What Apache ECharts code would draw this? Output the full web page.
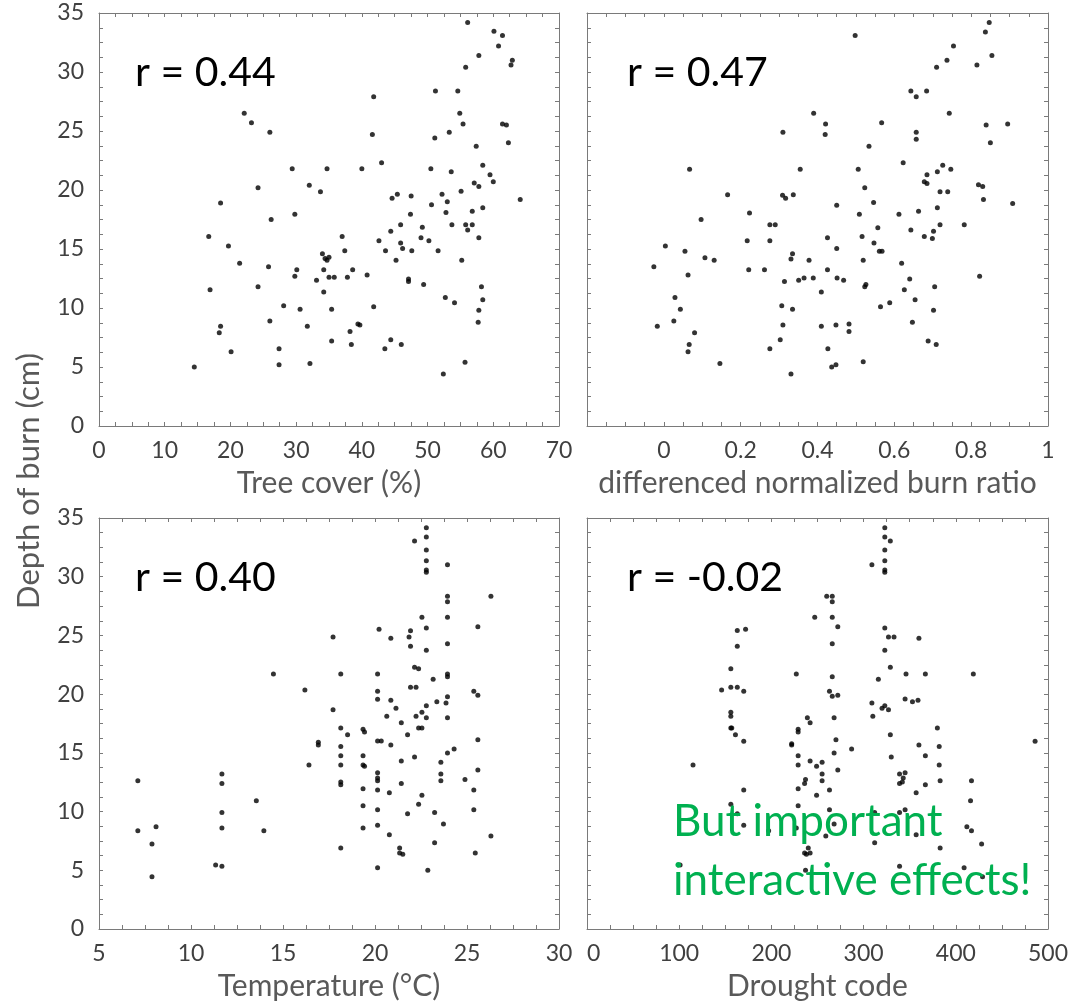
<!DOCTYPE html>
<html>
<head>
<meta charset="utf-8">
<script src="https://cdn.jsdelivr.net/npm/echarts@6/dist/echarts.min.js"></script>
<style>
  html, body { margin: 0; padding: 0; background: #fff; }
  #chart { width: 1071px; height: 1005px; }
</style>
</head>
<body>
<div id="chart"></div>
<script>
// Depth of burn against four site variables, one scatter panel each.

// Panel 1: tree cover (%)
const coverPct = [56.1,60.1,61.4,60.8,57.8,62.9,62.7,55.8,41.8,51.2,54.6,22.1,23.2,54.9,55.4,61.4,62.0,26.0,41.6,51.1,53.3,62.3,57.4,43.0,29.4,34.7,40.0,50.5,53.6,58.4,59.5,57.1,60.0,57.8,24.2,32.0,33.7,55.1,45.4,47.5,52.2,44.6,64.1,53.0,50.6,18.5,58.4,56.8,52.8,29.8,47.4,26.2,45.9,53.7,55.8,56.8,56.1,49.2,44.4,16.7,37.0,49.0,57.8,42.6,50.2,45.9,19.7,46.2,37.4,43.6,47.6,51.6,34.0,34.4,35.0,34.7,45.2,55.2,21.4,25.8,30.1,34.2,38.6,29.8,40.8,35.0,35.8,37.8,33.1,47.1,47.1,49.4,24.2,58.2,16.9,34.2,52.7,58.4,54.1,28.1,41.8,30.6,35.4,57.8,26.0,57.7,39.4,39.7,18.5,31.7,18.3,38.2,35.4,44.4,38.4,46.0,27.4,43.5,20.1,27.4,32.1,55.7,14.5,52.4];
const coverDepth = [34.2,33.45,33.1,32.2,31.4,31.0,30.6,30.4,27.9,28.4,28.4,26.5,25.7,26.5,25.6,25.6,25.5,24.9,24.7,24.4,24.9,24.0,23.7,22.3,21.8,21.8,21.8,21.8,21.55,22.1,21.3,20.6,20.7,20.3,20.2,20.4,19.85,19.9,19.65,19.5,19.65,19.3,19.2,19.0,18.75,18.9,18.5,18.2,18.1,17.95,17.95,17.5,17.05,17.05,17.05,17.05,16.6,16.85,16.5,16.05,16.05,15.95,15.95,15.7,15.7,15.5,15.25,15.05,14.85,14.85,14.85,14.85,14.6,14.2,14.3,14.05,14.05,14.05,13.8,13.5,13.25,13.25,13.25,12.7,12.8,12.6,12.6,12.6,12.35,12.45,12.25,12.0,11.8,11.8,11.55,11.35,10.9,10.7,10.45,10.2,10.1,9.9,9.9,9.8,8.9,8.8,8.65,8.55,8.45,8.45,7.9,8.0,7.2,7.3,6.9,6.9,6.55,6.55,6.3,5.2,5.3,5.4,5.0,4.4];

// Panel 2: differenced normalized burn ratio
const dnbr = [0.847,0.498,0.837,0.754,0.854,0.737,0.815,0.710,0.643,0.684,0.657,0.390,0.743,0.421,0.567,0.839,0.895,0.310,0.657,0.420,0.657,0.850,0.534,0.623,0.726,0.067,0.355,0.506,0.747,0.712,0.685,0.678,0.685,0.819,0.830,0.523,0.719,0.739,0.166,0.309,0.317,0.337,0.832,0.546,0.908,0.450,0.712,0.663,0.223,0.509,0.612,0.097,0.276,0.290,0.719,0.782,0.557,0.643,0.702,0.678,0.699,0.516,0.426,0.217,0.276,0.547,0.004,0.450,0.561,0.568,0.055,0.335,0.107,0.331,0.131,0.378,0.519,0.619,-0.026,0.221,0.262,0.426,0.063,0.365,0.389,0.451,0.351,0.468,0.314,0.640,0.822,0.526,0.523,0.705,0.626,0.410,0.029,0.654,0.588,0.307,0.564,0.043,0.335,0.702,0.026,0.647,0.482,0.310,0.448,-0.017,0.410,0.482,0.080,0.303,0.688,0.066,0.709,0.276,0.427,0.063,0.146,0.519,0.448,0.437,0.331];
const dnbrDepth = [34.2,33.1,33.4,32.2,31.4,31.0,30.6,30.4,28.4,28.4,27.9,26.5,26.5,25.6,25.7,25.5,25.6,24.9,24.9,24.7,24.3,24.0,23.7,22.3,22.1,21.75,21.75,21.75,21.75,21.55,21.3,20.7,20.55,20.45,20.3,20.2,19.85,19.85,19.6,19.55,19.3,19.6,19.2,18.95,18.85,18.7,18.5,18.2,18.05,17.95,17.95,17.5,17.05,17.05,17.05,17.05,16.8,16.6,16.5,16.05,15.9,16.05,15.95,15.7,15.7,15.5,15.25,15.05,14.8,14.8,14.8,14.6,14.25,14.15,14.05,14.05,14.05,13.8,13.5,13.25,13.25,13.25,12.8,12.55,12.55,12.55,12.35,12.35,12.25,12.45,12.7,12.0,11.8,11.8,11.55,11.35,10.9,10.7,10.45,10.2,10.1,9.9,9.9,9.8,8.9,8.8,8.65,8.55,8.55,8.45,8.45,8.0,7.9,7.3,7.2,6.9,6.9,6.55,6.55,6.3,5.3,5.45,5.2,5.0,4.4];

// Panel 3: temperature (°C)
const tempC = [22.79,22.79,22.15,22.79,22.79,23.94,22.79,22.79,23.94,23.94,26.30,22.55,23.94,22.79,25.59,20.22,21.93,17.72,20.86,21.85,21.93,23.94,22.79,22.15,22.37,14.48,18.14,20.14,23.94,23.94,23.16,16.19,20.14,21.93,22.23,25.37,25.59,20.14,23.94,20.86,23.36,23.86,22.79,17.72,21.14,22.55,20.64,22.23,22.79,23.94,21.43,18.14,22.37,22.55,19.35,19.43,18.51,21.77,16.92,16.92,20.14,20.34,25.59,20.86,18.14,24.30,23.94,18.14,19.35,22.15,16.41,18.14,19.35,19.43,21.43,23.58,11.68,20.14,23.58,25.59,20.14,20.14,24.89,7.11,23.58,11.68,18.14,18.14,21.43,19.35,20.14,25.37,20.78,22.55,13.55,19.35,22.37,20.14,25.37,11.68,21.77,23.24,23.72,20.14,8.10,11.68,19.35,7.11,13.96,20.78,26.30,7.88,23.24,18.14,21.34,21.34,21.51,25.45,11.34,11.68,20.14,22.87,7.88];
const tempDepth = [34.18,33.38,33.04,32.27,31.37,31.02,30.57,30.37,28.33,27.87,28.33,26.54,26.54,25.63,25.74,25.52,25.40,24.86,24.75,24.86,24.07,24.30,23.73,22.28,22.17,21.71,21.71,21.71,21.71,21.49,21.26,20.35,20.24,20.58,20.58,20.24,19.90,19.56,19.78,19.47,19.36,19.25,19.02,18.68,18.79,18.45,18.11,18.11,18.00,18.00,17.57,17.12,17.12,17.12,17.00,16.78,16.55,16.55,15.90,15.67,16.01,16.01,16.12,15.67,15.55,15.33,14.99,14.76,14.76,14.65,13.97,13.97,13.97,13.85,14.31,14.19,13.20,13.31,13.20,13.54,12.86,12.63,12.74,12.63,12.63,12.40,12.52,12.29,12.40,11.95,11.84,11.84,11.61,11.38,10.93,10.50,10.62,10.16,10.16,9.93,9.82,9.93,8.94,8.83,8.71,8.60,8.60,8.37,8.37,8.03,7.92,7.24,7.35,6.90,6.90,6.47,6.36,6.47,5.45,5.34,5.22,5.00,4.46];

// Panel 4: drought code
const droughtCode = [323,323,329,323,323,309,323,323,260,266,266,247,266,323,272,163,172,327,333,360,163,266,323,329,156,227,346,367,419,316,266,146,156,163,170,263,266,272,345,353,359,309,320,323,327,156,156,310,239,268,242,156,157,229,229,380,161,329,170,222,222,270,360,382,486,287,268,229,330,367,115,229,242,249,255,382,272,255,339,345,237,236,255,339,342,343,383,417,367,170,229,263,357,249,416,156,229,263,339,345,312,163,268,170,412,417,197,227,259,357,312,383,240,236,238,242,428,101,339,409,237,429];
const droughtDepth = [34.18,33.38,33.04,32.27,31.37,31.02,30.57,30.37,28.33,28.33,27.87,26.54,26.54,25.63,25.74,25.43,25.52,24.86,24.86,24.75,24.07,24.30,23.73,22.28,22.17,21.71,21.71,21.71,21.71,21.26,21.49,20.35,20.58,20.58,20.24,20.24,19.81,19.90,19.59,19.36,19.47,19.25,18.79,19.02,18.68,18.45,18.11,18.11,18.00,18.00,17.57,17.12,17.12,17.00,16.78,17.12,16.55,16.55,15.98,15.78,15.67,16.12,15.67,15.55,15.98,15.33,14.99,14.76,14.65,14.76,13.97,13.97,14.31,13.85,14.19,13.97,13.54,13.20,13.20,13.31,12.74,12.40,12.63,12.40,12.52,12.86,12.63,12.63,12.29,11.84,11.95,11.84,11.61,11.38,10.93,10.62,10.50,10.16,9.93,10.16,9.93,9.82,8.94,8.83,8.71,8.37,8.37,8.60,7.92,8.03,7.35,6.90,6.90,6.47,6.36,6.47,7.24,5.45,5.34,5.22,5.00,4.46];

// Axis titles and correlation labels
const xTitles = ['Tree cover (%)', 'differenced normalized burn ratio', 'Temperature (\u00B0C)', 'Drought code'];
const yTitle = 'Depth of burn (cm)';
const rLabels = ['r = 0.44', 'r = 0.47', 'r = 0.40', 'r = -0.02'];
const noteLines = ['But important', 'interactive effects!'];

const FONT = 'Lato, "Open Sans", sans-serif';
const AXIS_GRAY = '#7a7a7a';
const LABEL_GRAY = '#404040';
const TITLE_GRAY = '#595959';

const panels = [
  { x: coverPct,    y: coverDepth,   xMin: 0,    xMax: 70,  xStep: 10,  grid: { left: 99,  top: 13,  width: 460, height: 413 }, yLabels: true },
  { x: dnbr,        y: dnbrDepth,    xMin: -0.2, xMax: 1,   xStep: 0.2, grid: { left: 587, top: 13,  width: 461, height: 413 }, yLabels: false },
  { x: tempC,       y: tempDepth,    xMin: 5,    xMax: 30,  xStep: 5,   grid: { left: 99,  top: 518, width: 460, height: 411 }, yLabels: true },
  { x: droughtCode, y: droughtDepth, xMin: 0,    xMax: 500, xStep: 100, grid: { left: 587, top: 518, width: 461, height: 411 }, yLabels: false }
];

const tickStyle = {
  axisLine: { show: true, onZero: false, lineStyle: { color: AXIS_GRAY, width: 1 } },
  axisTick: { show: true, inside: true, length: 4, lineStyle: { color: AXIS_GRAY } },
  minorTick: { show: true, splitNumber: 4, length: 4, lineStyle: { color: AXIS_GRAY } },
  splitLine: { show: false },
  minorSplitLine: { show: false }
};

const grids = [], xAxes = [], yAxes = [], series = [];

panels.forEach((p, i) => {
  grids.push(Object.assign({ show: false, containLabel: false, outerBoundsMode: 'none' }, p.grid));

  const xLabel = {
    show: true, color: LABEL_GRAY, fontFamily: FONT, fontSize: 23, margin: 13,
    formatter: (v) => (v < p.xMin + 1e-9 && p.xMin < 0) ? '' : String(Math.round(v * 10) / 10)
  };
  if (i === 3) xLabel.alignMinLabel = 'left';

  // bottom axis with labels and title
  xAxes.push(Object.assign({
    type: 'value', gridIndex: i, position: 'bottom',
    min: p.xMin, max: p.xMax, interval: p.xStep,
    axisLabel: xLabel,
    name: xTitles[i], nameLocation: 'middle', nameGap: 42,
    nameTextStyle: { color: TITLE_GRAY, fontFamily: FONT, fontSize: 30 }
  }, tickStyle));
  // top mirror axis (ticks only)
  xAxes.push(Object.assign({
    type: 'value', gridIndex: i, position: 'top',
    min: p.xMin, max: p.xMax, interval: p.xStep,
    axisLabel: { show: false }
  }, tickStyle));

  // left axis
  yAxes.push(Object.assign({
    type: 'value', gridIndex: i, position: 'left',
    min: 0, max: 35, interval: 5,
    axisLabel: { show: p.yLabels, color: LABEL_GRAY, fontFamily: FONT, fontSize: 23, margin: 15 }
  }, tickStyle));
  // right mirror axis
  yAxes.push(Object.assign({
    type: 'value', gridIndex: i, position: 'right',
    min: 0, max: 35, interval: 5,
    axisLabel: { show: false }
  }, tickStyle));

  series.push({
    type: 'scatter',
    xAxisIndex: 2 * i, yAxisIndex: 2 * i,
    data: p.x.map((v, k) => [v, p.y[k]]),
    symbol: 'circle', symbolSize: 5,
    itemStyle: { color: '#000' },
    emphasis: { disabled: true },
    silent: true,
    z: 3
  });
});

const rPos = [[135, 52], [627, 52], [135, 557], [627, 557]];
const graphics = rLabels.map((t, i) => ({
  type: 'text', left: rPos[i][0], top: rPos[i][1], z: 10,
  style: { text: t, fill: '#000', font: '41px ' + FONT }
}));
graphics.push({
  type: 'text', left: 673, top: 800, z: 10,
  style: { text: noteLines[0], fill: '#00B050', font: '44px ' + FONT }
});
graphics.push({
  type: 'text', left: 673, top: 859, z: 10,
  style: { text: noteLines[1], fill: '#00B050', font: '44px ' + FONT }
});
graphics.push({
  type: 'text', x: 29, y: 481, rotation: Math.PI / 2, z: 10,
  style: { text: yTitle, fill: TITLE_GRAY, font: '31px ' + FONT, align: 'center', verticalAlign: 'middle', textAlign: 'center', textVerticalAlign: 'middle' }
});

const chart = echarts.init(document.getElementById('chart'), null, { renderer: 'canvas' });
chart.setOption({
  animation: false,
  backgroundColor: '#fff',
  textStyle: { fontFamily: FONT },
  grid: grids,
  xAxis: xAxes,
  yAxis: yAxes,
  series: series,
  graphic: graphics
});
</script>
</body>
</html>
